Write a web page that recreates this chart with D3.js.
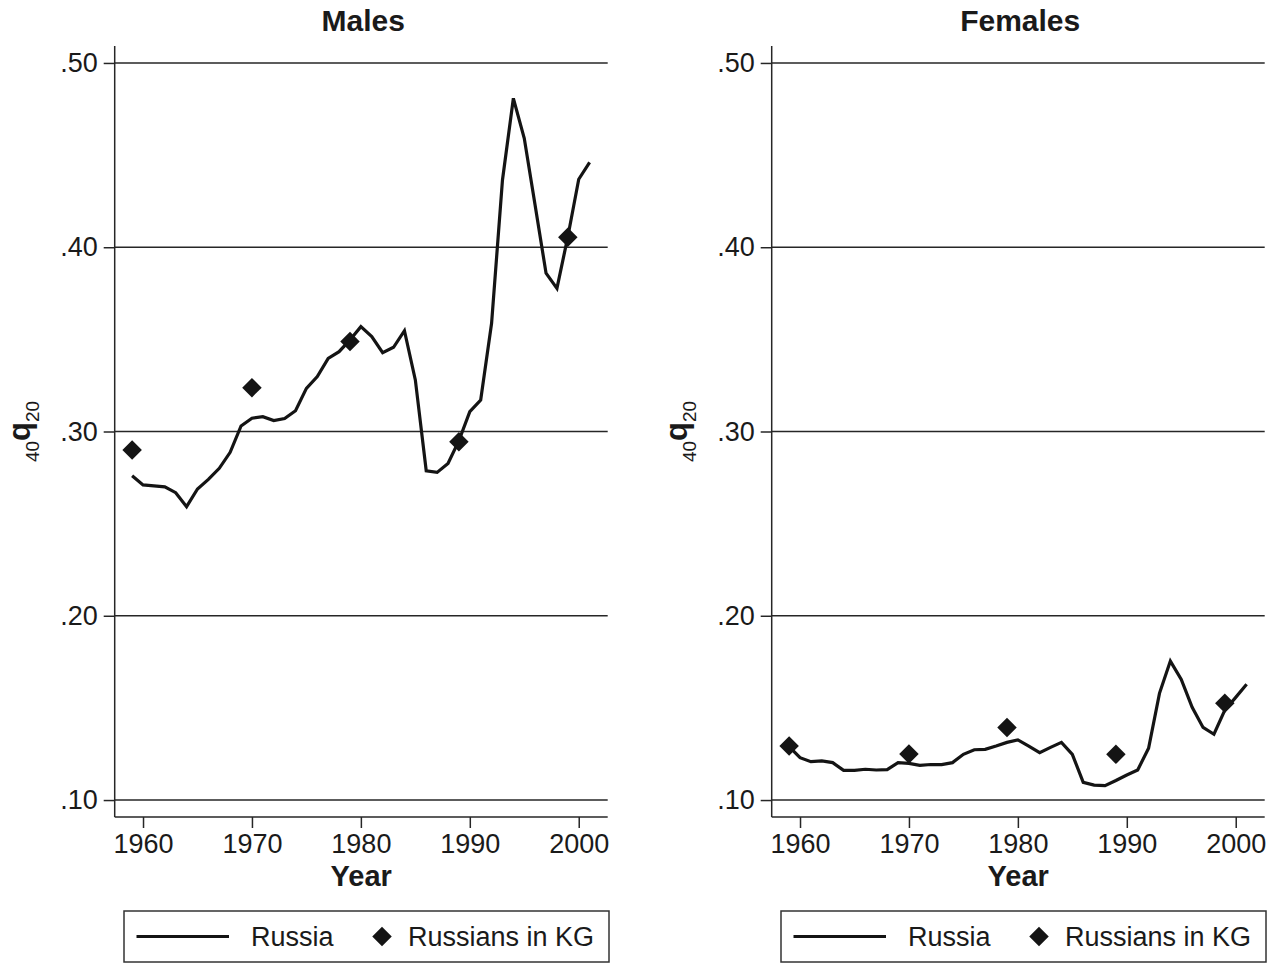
<!DOCTYPE html>
<html lang="en">
<head>
    <meta charset="UTF-8">
    <title>40q20 Russia vs Russians in KG</title>
    <style>
    html, body {
        margin: 0;
        padding: 0;
        background-color: white;
    }

    svg {
        display: block;
        font-family: "Liberation Sans", Arial, Helvetica, sans-serif;
    }

    .grid line {
        stroke: #262626;
        stroke-width: 1.5;
    }

    .axis path, .axis line {
        stroke: #262626;
        stroke-width: 1.5;
    }

    .title, .xlabel {
        font-weight: bold;
        fill: #1a1a1a;
    }
    </style>
    <script src="https://d3js.org/d3.v7.min.js"></script>
</head>
<body>
    <svg id="canvas"></svg>

    <script>
    // Data
    let years = d3.range(1959, 2002);
    let maleRussia = [
        0.276, 0.271, 0.2705, 0.270, 0.2668, 0.2592, 0.2688, 0.274, 0.280, 0.2887,
        0.303, 0.3072, 0.308, 0.3059, 0.307, 0.3113, 0.3234, 0.3298, 0.3397, 0.3433,
        0.3497, 0.3569, 0.3515, 0.3428, 0.3457, 0.3547, 0.328, 0.2787, 0.2778, 0.2827,
        0.295, 0.3108, 0.3171, 0.3587, 0.4365, 0.4808, 0.4591, 0.4226, 0.3859, 0.3777,
        0.4057, 0.4369, 0.4461
    ];
    let femaleRussia = [
        0.129, 0.123, 0.1208, 0.1212, 0.1203, 0.1161, 0.1161, 0.1167, 0.1163, 0.1165,
        0.1203, 0.1199, 0.1188, 0.1193, 0.1192, 0.1203, 0.1248, 0.1273, 0.1275, 0.1293,
        0.1313, 0.1326, 0.1293, 0.1257, 0.1286, 0.1313, 0.1248, 0.1096, 0.1081, 0.1078,
        0.1106, 0.1136, 0.1163, 0.1281, 0.1579, 0.1754, 0.1655, 0.1503, 0.1394, 0.1357,
        0.1488, 0.1557, 0.1628
    ];
    let kgYears = [1959, 1970, 1979, 1989, 1999];
    let maleKG = [0.290, 0.3238, 0.3488, 0.2945, 0.4054];
    let femaleKG = [0.1293, 0.125, 0.1394, 0.1248, 0.1525];

    let xTicks = [1960, 1970, 1980, 1990, 2000];
    let yTicks = [0.10, 0.20, 0.30, 0.40, 0.50];
    let panelTitles = ['Males', 'Females'];
    let legendLabels = ['Russia', 'Russians in KG'];

    // Layout
    let width = 1284;
    let height = 964;
    let plotTop = 46;
    let plotBottom = 817;
    let plotWidth = 493;
    let panelLefts = [114.7, 771.7];

    let svg = d3.select('#canvas')
        .attr('width', width)
        .attr('height', height);

    let diamond = d3.symbol().type(d3.symbolSquare).size(190);

    let drawPanel = (left, title, lineValues, kgValues) => {
        let xScale = d3.scaleLinear()
            .domain([1957.4, 2002.66])
            .range([left, left + plotWidth]);

        let yScale = d3.scaleLinear()
            .domain([0.0908, 0.5092])
            .range([plotBottom, plotTop]);

        let g = svg.append('g');

        // Gridlines
        g.append('g')
            .attr('class', 'grid')
            .selectAll('line')
            .data(yTicks)
            .enter()
            .append('line')
            .attr('x1', left)
            .attr('x2', left + plotWidth)
            .attr('y1', (d) => yScale(d))
            .attr('y2', (d) => yScale(d));

        // Axes
        let yAxis = d3.axisLeft(yScale)
            .tickValues(yTicks)
            .tickSize(11)
            .tickSizeOuter(0)
            .tickPadding(6)
            .tickFormat((d) => d3.format('.2f')(d).replace(/^0/, ''));

        let xAxis = d3.axisBottom(xScale)
            .tickValues(xTicks)
            .tickSize(11)
            .tickSizeOuter(0)
            .tickPadding(6)
            .tickFormat(d3.format('d'));

        g.append('g')
            .attr('class', 'axis')
            .attr('transform', 'translate(' + left + ', 0)')
            .call(yAxis)
            .call((a) => a.select('.domain').attr('d', 'M0,' + plotTop + 'V' + plotBottom));

        g.append('g')
            .attr('class', 'axis')
            .attr('transform', 'translate(0, ' + plotBottom + ')')
            .call(xAxis)
            .call((a) => a.select('.domain').attr('d', 'M' + left + ',0H' + (left + plotWidth)));

        g.selectAll('.axis text')
            .attr('fill', '#1a1a1a')
            .attr('font-family', null)
            .attr('font-size', null)
            .style('font-size', '27px');

        // Title
        g.append('text')
            .attr('class', 'title')
            .attr('x', left + plotWidth / 2 + 2)
            .attr('y', 31)
            .attr('text-anchor', 'middle')
            .style('font-size', '30px')
            .text(title);

        // X label
        g.append('text')
            .attr('class', 'xlabel')
            .attr('x', left + plotWidth / 2)
            .attr('y', 886)
            .attr('text-anchor', 'middle')
            .style('font-size', '29px')
            .text('Year');

        // Y label 40q20
        let ylab = g.append('text')
            .attr('transform', 'translate(' + (left - 84.5) + ', ' + ((plotTop + plotBottom) / 2) + ') rotate(-90)')
            .attr('text-anchor', 'middle')
            .attr('fill', '#1a1a1a');
        ylab.append('tspan').style('font-size', '19px').attr('dy', 9).text('40');
        ylab.append('tspan').style('font-size', '31px').style('font-weight', 'bold').attr('dy', -9).text('q');
        ylab.append('tspan').style('font-size', '19px').attr('dy', 9).text('20');

        // Russia line
        let line = d3.line()
            .x((d, i) => xScale(years[i]))
            .y((d) => yScale(d));

        g.append('path')
            .datum(lineValues)
            .attr('d', line)
            .attr('fill', 'none')
            .attr('stroke', '#141414')
            .attr('stroke-width', 3.2)
            .attr('stroke-linejoin', 'miter');

        // Russians in KG diamonds
        g.selectAll('.kg')
            .data(kgValues)
            .enter()
            .append('path')
            .attr('class', 'kg')
            .attr('d', diamond)
            .attr('fill', '#141414')
            .attr('transform', (d, i) => 'translate(' + xScale(kgYears[i]) + ', ' + yScale(d) + ') rotate(45)');

        // Legend
        let lg = g.append('g').attr('transform', 'translate(' + (left + 9.3) + ', 911)');
        lg.append('rect')
            .attr('width', 485)
            .attr('height', 51)
            .attr('fill', 'none')
            .attr('stroke', '#333')
            .attr('stroke-width', 1.5);
        lg.append('line')
            .attr('x1', 12.5)
            .attr('x2', 105)
            .attr('y1', 25.5)
            .attr('y2', 25.5)
            .attr('stroke', '#141414')
            .attr('stroke-width', 3.2);
        lg.append('text')
            .attr('x', 127)
            .attr('y', 35)
            .style('font-size', '27px')
            .attr('fill', '#1a1a1a')
            .text(legendLabels[0]);
        lg.append('path')
            .attr('d', diamond)
            .attr('fill', '#141414')
            .attr('transform', 'translate(258, 25.5) rotate(45)');
        lg.append('text')
            .attr('x', 284)
            .attr('y', 35)
            .style('font-size', '27px')
            .attr('fill', '#1a1a1a')
            .text(legendLabels[1]);
    };

    drawPanel(panelLefts[0], panelTitles[0], maleRussia, maleKG);
    drawPanel(panelLefts[1], panelTitles[1], femaleRussia, femaleKG);
    </script>
</body>
</html>
